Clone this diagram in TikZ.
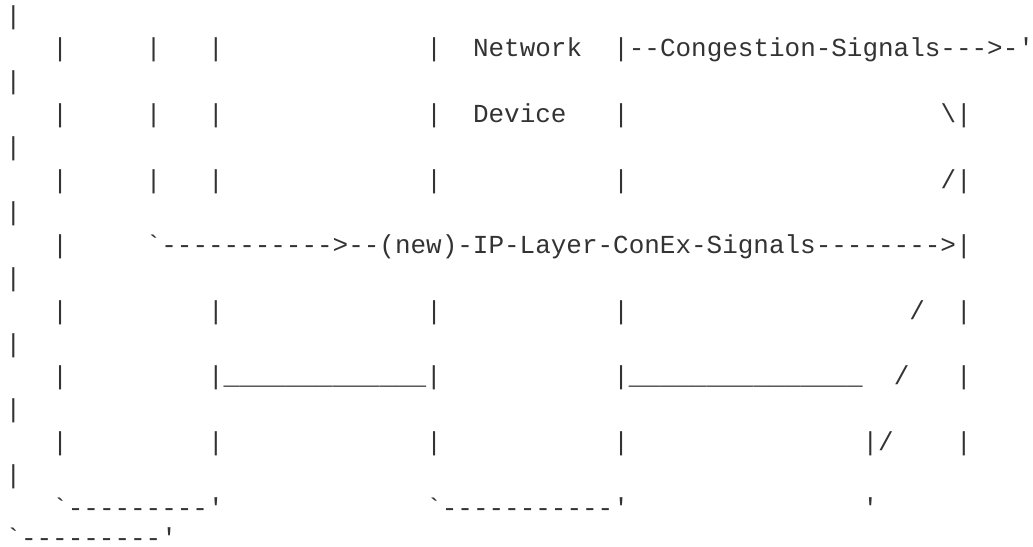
\documentclass[tikz,border=0pt]{standalone}
\usepackage{fontspec}
\setmonofont{Liberation Mono}
\definecolor{txt}{HTML}{333333}
\newcommand\gap[1]{\kern#1\fontdimen2\font}
\tikzset{asc/.style={anchor=base west, inner sep=0pt, outer sep=0pt,
  font=\ttfamily\fontsize{25.97}{30}\selectfont, text=txt}}
\begin{document}
\begin{tikzpicture}[x=1pt,y=-1pt]
\useasboundingbox[fill=white] (0,0) rectangle (1033,546);
\def\xa{5.5}
\node[asc] (l0)  at (\xa,24.0) {|};
\node[asc] (l1)  at (\xa,56.8) {\gap{3}|\gap{5}|\gap{3}|\gap{13}|\gap{2}Network\gap{2}|--Congestion-Signals--->-'};
\node[asc] (l2)  at (\xa,89.6) {|};
\node[asc] (l3)  at (\xa,122.4) {\gap{3}|\gap{5}|\gap{3}|\gap{13}|\gap{2}Device\gap{3}|\gap{20}\textbackslash|};
\node[asc] (l4)  at (\xa,155.2) {|};
\node[asc] (l5)  at (\xa,188.0) {\gap{3}|\gap{5}|\gap{3}|\gap{13}|\gap{11}|\gap{20}/|};
\node[asc] (l6)  at (\xa,220.8) {|};
\node[asc] (l7)  at (\xa,253.6) {\gap{3}|\gap{5}`----------->--(new)-IP-Layer-ConEx-Signals-------->|};
\node[asc] (l8)  at (\xa,286.4) {|};
\node[asc] (l9)  at (\xa,319.2) {\gap{3}|\gap{9}|\gap{13}|\gap{11}|\gap{18}/\gap{2}|};
\node[asc] (l10) at (\xa,352.0) {|};
\node[asc] (l11) at (\xa,384.8) {\gap{3}|\gap{9}|\_\_\_\_\_\_\_\_\_\_\_\_\_|\gap{11}|\_\_\_\_\_\_\_\_\_\_\_\_\_\_\_\gap{2}/\gap{3}|};
\node[asc] (l12) at (\xa,417.6) {|};
\node[asc] (l13) at (\xa,450.4) {\gap{3}|\gap{9}|\gap{13}|\gap{11}|\gap{15}|/\gap{4}|};
\node[asc] (l14) at (\xa,483.2) {|};
\node[asc] (l15) at (\xa,516.0) {\gap{3}`---------'\gap{13}`-----------'\gap{15}'};
\node[asc, text depth=0pt] (l16) at (\xa,546.0) {`---------'};
\end{tikzpicture}
\end{document}
